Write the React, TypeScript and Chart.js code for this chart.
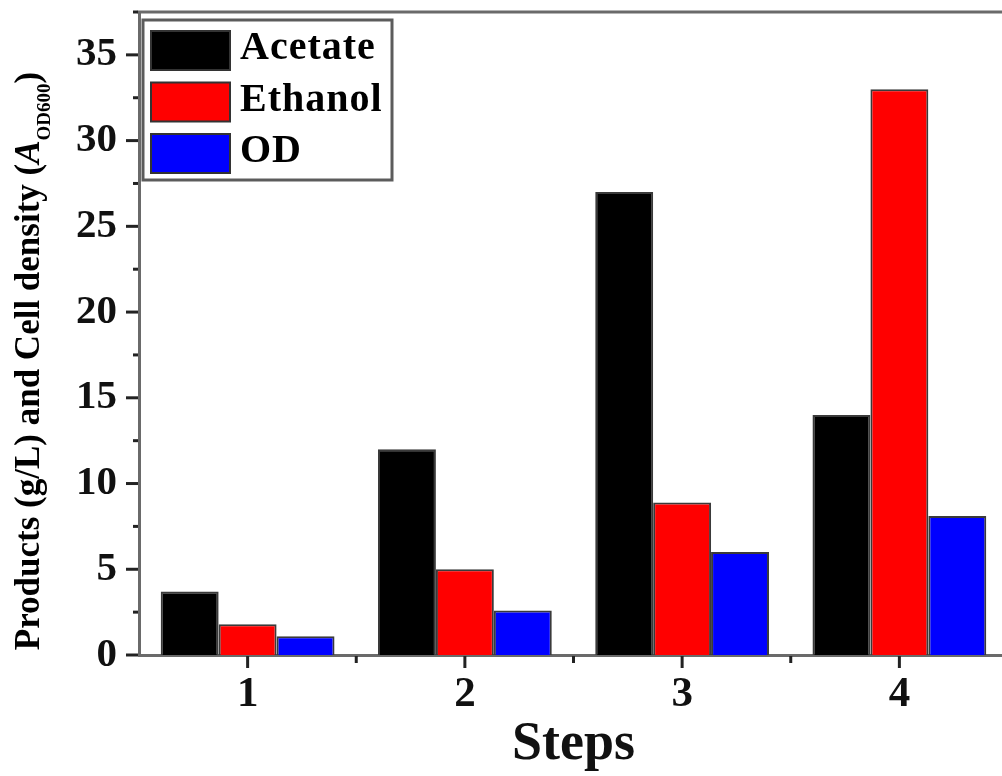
import React, { useEffect, useRef } from 'react';
import { Chart, registerables } from 'chart.js';

Chart.register(...registerables);

const steps = ['1', '2', '3', '4'];
const acetate = [3.7, 12, 27, 14];
const ethanol = [1.8, 5.0, 8.9, 33];
const od = [1.1, 2.6, 6.0, 8.1];
const seriesNames = ['Acetate', 'Ethanol', 'OD'];
const seriesColors = ['#000000', '#ff0000', '#0000ff'];
const yTicks = [0, 5, 10, 15, 20, 25, 30, 35];
const yMinorTicks = [2.5, 7.5, 12.5, 17.5, 22.5, 27.5, 32.5, 37.5];
const yMax = 37.5;
const xTitle = 'Steps';
const yTitleParts = ['Products (g/L) and Cell density (', 'A', 'OD600', ')'];

const SERIF = '"Liberation Serif", "Times New Roman", serif';
const AXIS_COLOR = '#6a6a6a';
const TICK_COLOR = '#222222';

const decorPlugin = {
  id: 'decor',
  afterDraw(chart: any) {
    const ctx = chart.ctx as CanvasRenderingContext2D;
    const { left, right, top, bottom } = chart.chartArea;
    const ys = chart.scales.y;
    const xs = chart.scales.x;
    ctx.save();
    // top frame line
    ctx.strokeStyle = AXIS_COLOR;
    ctx.lineWidth = 3;
    ctx.beginPath();
    ctx.moveTo(left - 1.5, top);
    ctx.lineTo(right + 2, top);
    ctx.stroke();

    // y ticks
    ctx.strokeStyle = TICK_COLOR;
    ctx.lineWidth = 3;
    yTicks.forEach((v) => {
      const py = ys.getPixelForValue(v);
      ctx.beginPath();
      ctx.moveTo(left - 13, py);
      ctx.lineTo(left - 1, py);
      ctx.stroke();
    });
    yMinorTicks.forEach((v) => {
      const py = ys.getPixelForValue(v);
      if (py < top - 1) return;
      ctx.beginPath();
      ctx.moveTo(left - 6, py);
      ctx.lineTo(left - 1, py);
      ctx.stroke();
    });
    // x ticks
    steps.forEach((_, i) => {
      const px = xs.getPixelForValue(i);
      ctx.beginPath();
      ctx.moveTo(px, bottom + 1);
      ctx.lineTo(px, bottom + 13);
      ctx.stroke();
      if (i < steps.length - 1) {
        const pb = xs.getPixelForValue(i + 0.5);
        ctx.beginPath();
        ctx.moveTo(pb, bottom + 1);
        ctx.lineTo(pb, bottom + 8);
        ctx.stroke();
      }
    });

    // legend box
    const lx = left + 4;
    const ly = top + 8;
    const lw = 249;
    const lh = 160;
    ctx.fillStyle = '#ffffff';
    ctx.fillRect(lx, ly, lw, lh);
    ctx.strokeStyle = '#5c5c5c';
    ctx.lineWidth = 3;
    ctx.strokeRect(lx, ly, lw, lh);
    const datasets = chart.data.datasets;
    datasets.forEach((ds: any, i: number) => {
      const sy = ly + 11 + i * 51.5;
      ctx.fillStyle = ds.backgroundColor;
      ctx.fillRect(lx + 8, sy, 79, 39);
      ctx.strokeStyle = '#333333';
      ctx.lineWidth = 2;
      ctx.strokeRect(lx + 8, sy, 79, 39);
      ctx.fillStyle = '#000000';
      ctx.font = `bold 40px ${SERIF}`;
      (ctx as any).letterSpacing = '1px';
      ctx.textBaseline = 'middle';
      ctx.textAlign = 'left';
      ctx.fillText(ds.label, lx + 97, sy + 18);
      (ctx as any).letterSpacing = '0px';
    });

    // y title with subscript
    const fonts = [
      `bold 35px ${SERIF}`,
      `italic bold 35px ${SERIF}`,
      `bold 19px ${SERIF}`,
      `bold 35px ${SERIF}`,
    ];
    const dys = [0, 0, 15, 0];
    let total = 0;
    const widths = yTitleParts.map((t, i) => {
      ctx.font = fonts[i];
      const w = ctx.measureText(t).width;
      total += w;
      return w;
    });
    ctx.translate(30, 361);
    ctx.rotate(-Math.PI / 2);
    ctx.fillStyle = '#000000';
    ctx.textBaseline = 'middle';
    ctx.textAlign = 'left';
    let cx = -total / 2;
    yTitleParts.forEach((t, i) => {
      ctx.font = fonts[i];
      ctx.fillText(t, cx, dys[i]);
      cx += widths[i];
    });
    ctx.restore();
  },
};

export default function App() {
  const canvasRef = useRef<HTMLCanvasElement | null>(null);

  useEffect(() => {
    if (!canvasRef.current) return;
    const series = [acetate, ethanol, od];
    const chart = new Chart(canvasRef.current, {
      type: 'bar',
      data: {
        labels: steps,
        datasets: series.map((d, i) => ({
          label: seriesNames[i],
          data: d,
          backgroundColor: seriesColors[i],
          borderColor: '#3a3a3a',
          borderWidth: 2,
          categoryPercentage: 0.8,
          barPercentage: 1.0,
        })),
      },
      options: {
        animation: false,
        responsive: true,
        maintainAspectRatio: false,
        layout: { padding: { top: 12, right: 12, left: 0, bottom: 0 } },
        plugins: {
          legend: { display: false },
          tooltip: { enabled: false },
        },
        scales: {
          x: {
            type: 'category',
            offset: true,
            grid: { display: false, drawTicks: false },
            border: { display: true, color: AXIS_COLOR, width: 3 },
            ticks: {
              color: '#111111',
              font: { family: SERIF, size: 43, weight: 'bold' },
              padding: 14,
              maxRotation: 0,
            },
            title: {
              display: true,
              text: xTitle,
              color: '#111111',
              font: { family: SERIF, size: 54, weight: 'bold', lineHeight: 1 },
              padding: { top: 0, bottom: 4 },
            },
            afterFit: (scale: any) => {
              scale.height = 121;
              scale.paddingLeft = 0;
              scale.paddingRight = 0;
            },
          },
          y: {
            type: 'linear',
            min: 0,
            max: yMax,
            grid: { display: false, drawTicks: false },
            border: { display: true, color: AXIS_COLOR, width: 3 },
            ticks: {
              color: '#111111',
              font: { family: SERIF, size: 41, weight: 'bold' },
              padding: 22,
            },
            afterBuildTicks: (scale: any) => {
              scale.ticks = yTicks.map((v) => ({ value: v }));
            },
            afterFit: (scale: any) => {
              scale.width = 139;
              scale.paddingTop = 0;
              scale.paddingBottom = 0;
            },
          },
        },
      },
      plugins: [decorPlugin],
    });
    return () => chart.destroy();
  }, []);

  return (
    <div style={{ position: 'fixed', left: 0, top: 0, width: 1002, height: 776, overflow: 'hidden', background: '#fff' }}>
      <div style={{ position: 'relative', width: 1020, height: 776 }}>
        <canvas ref={canvasRef} />
      </div>
    </div>
  );
}
